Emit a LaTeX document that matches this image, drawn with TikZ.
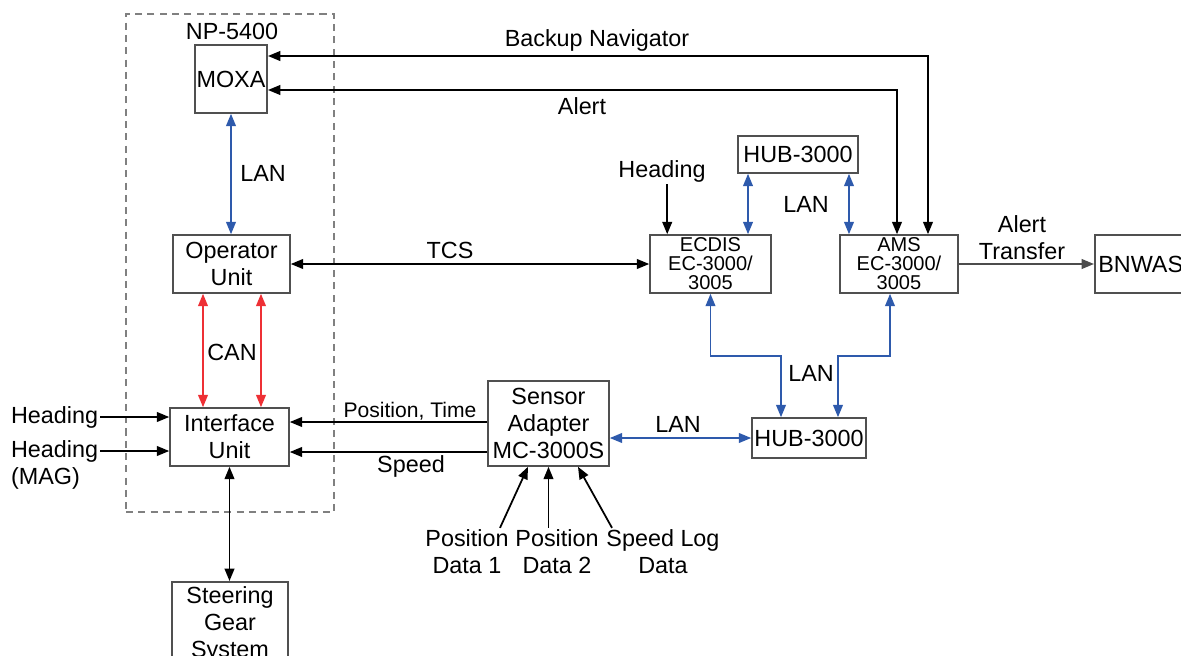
\documentclass[tikz,border=0pt]{standalone}
\usepackage{fontspec}
\setmainfont{Liberation Sans}
\usetikzlibrary{arrows.meta,positioning}
\definecolor{lanblue}{HTML}{2E5AAC}
\definecolor{canred}{HTML}{EE3035}
\definecolor{boxgray}{HTML}{505050}

\begin{document}
\begin{tikzpicture}[x=0.02cm, y=-0.02cm,
  font=\fontsize{13.3}{15.3}\selectfont,
  box/.style={draw=boxgray, line width=0.9pt, align=center, inner sep=1pt},
  smallbox/.style={box, font=\fontsize{11.4}{10.8}\selectfont,
                   minimum width=2.42cm, minimum height=1.16cm},
  lbl/.style={align=center, inner sep=1pt},
  group/.style={draw=gray, line width=0.8pt, dash pattern=on 4pt off 3pt,
                minimum width=4.16cm, minimum height=9.96cm},
  arr/.style={-{Triangle[length=7pt,width=5.5pt]}, line width=1pt},
  biarr/.style={{Triangle[length=7pt,width=5.5pt]}-{Triangle[length=7pt,width=5.5pt]},
                line width=1pt},
  lan/.style={biarr, lanblue},
  can/.style={biarr, canred}
]
  \useasboundingbox (0,0) rectangle (1181,656);

  \node[group] (np) at (230,263) {};
  \node[lbl] (nplbl) at (232,31) {NP-5400};
  \node[box, minimum width=1.44cm, minimum height=1.36cm] (moxa) at (231,79) {MOXA};
  \node[box, minimum width=2.34cm, minimum height=1.16cm] (opu) at (231.5,264) {Operator\\Unit};
  \node[box, minimum width=2.38cm, minimum height=1.16cm] (ifu) at (229.5,437) {Interface\\Unit};
  \node[box, anchor=north, minimum width=2.32cm, inner ysep=3pt] (steer) at (230,581) {Steering\\Gear\\System};
  \node[box, minimum width=2.42cm, minimum height=1.7cm] (sensor) at (548.5,423.5) {Sensor\\Adapter\\MC-3000S};
  \node[box, minimum width=2.28cm, minimum height=0.8cm] (hubl) at (809,438) {HUB-3000};
  \node[box, minimum width=2.4cm, minimum height=0.74cm] (hubt) at (798,154.5) {HUB-3000};
  \node[smallbox] (ecdis) at (710.5,264) {ECDIS\\EC-3000/\\3005};
  \node[smallbox, minimum width=2.36cm] (ams) at (899,264) {AMS\\EC-3000/\\3005};
  \node[box, anchor=west, minimum height=1.16cm, inner xsep=2pt] (bnwas) at (1094,264) {BNWAS};

  \node[lbl] (bklbl) at (597,40) {Backup Navigator};
  \node[lbl] (allbl) at (582,106) {Alert};
  \node[lbl] (lan1) at (263,173) {LAN};
  \node[lbl] (tcs) at (450,250) {TCS};
  \node[lbl] (hdge) at (662,171) {Heading};
  \node[lbl] (lan2) at (806,204) {LAN};
  \node[lbl] (atr) at (1022,238) {Alert\\Transfer};
  \node[lbl] (can) at (232,352) {CAN};
  \node[lbl, anchor=west] (hdg1) at (9,417) {Heading};
  \node[lbl, anchor=west] (hdg2) at (9,451) {Heading};
  \node[lbl, anchor=west] (mag) at (9,478) {(MAG)};
  \node[lbl, font=\fontsize{12}{14}\selectfont] (pt) at (410,411) {Position, Time};
  \node[lbl] (spd) at (411,466) {Speed};
  \node[lbl] (lan3) at (678,424) {LAN};
  \node[lbl] (lan4) at (811,373) {LAN};
  \node[lbl] (pd1) at (467,552) {Position\\Data 1};
  \node[lbl] (pd2) at (557,552) {Position\\Data 2};
  \node[lbl] (slog) at (663,552) {Speed Log\\Data};

  \coordinate (hdgein) at ([xshift=0.36cm]ecdis.north west);
  \coordinate (ptin) at ([yshift=0.3cm]ifu.east);
  \coordinate (spdin) at ([yshift=-0.3cm]ifu.east);

  \draw[biarr] ([yshift=0.46cm]moxa.east) -| ([xshift=0.58cm]ams.north);
  \draw[biarr] ([yshift=-0.22cm]moxa.east) -| ([xshift=-0.04cm]ams.north);
  \draw[lan] (moxa.south) -- (moxa.south |- opu.north);
  \draw[biarr] (opu.east) -- (ecdis.west);
  \draw[arr] (hdgein |- hdge.south) -- (hdgein);
  \draw[lan] ([xshift=-1cm]hubt.south) -- ([xshift=-1cm]hubt.south |- ecdis.north);
  \draw[lan] ([xshift=1.02cm]hubt.south) -- ([xshift=1.02cm]hubt.south |- ams.north);
  \draw[arr, black!70] (ams.east) -- (bnwas.west);
  \draw[can] ([xshift=-0.57cm]opu.south) -- ([xshift=-0.57cm]opu.south |- ifu.north);
  \draw[can] ([xshift=0.59cm]opu.south) -- ([xshift=0.59cm]opu.south |- ifu.north);
  \draw[arr] (hdg1.east) -- (hdg1.east -| ifu.west);
  \draw[arr] (hdg2.east) -- (hdg2.east -| ifu.west);
  \draw[arr] (ptin -| sensor.west) -- (ptin);
  \draw[arr] (spdin -| sensor.west) -- (spdin);
  \draw[biarr] (ifu.south) -- (ifu.south |- steer.north);
  \draw[lan] (sensor.east |- hubl.west) -- (hubl.west);
  \draw[lan] (ecdis.south) -- ++(0,62) -| ([xshift=-0.56cm]hubl.north);
  \draw[lan] ([xshift=-0.18cm]ams.south) -- ++(0,62) -| ([xshift=0.58cm]hubl.north);
  \draw[arr] ([xshift=0.66cm]pd1.north) -- ([xshift=-0.41cm]sensor.south);
  \draw[arr] (sensor.south |- pd2.north) -- (sensor.south);
  \draw[arr] ([xshift=-1.02cm]slog.north) -- ([xshift=0.59cm]sensor.south);
\end{tikzpicture}
\end{document}
